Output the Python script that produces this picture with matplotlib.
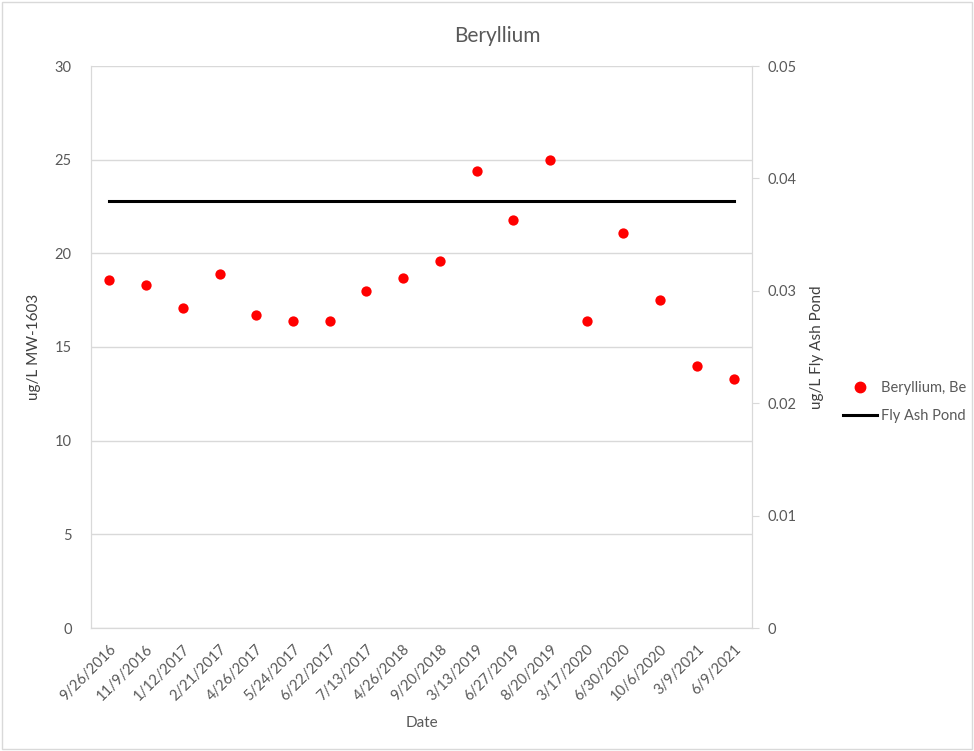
import matplotlib
matplotlib.use('Agg')
import matplotlib.pyplot as plt
from matplotlib.lines import Line2D

# data
dates = ['9/26/2016', '11/9/2016', '1/12/2017', '2/21/2017', '4/26/2017',
         '5/24/2017', '6/22/2017', '7/13/2017', '4/26/2018', '9/20/2018',
         '3/13/2019', '6/27/2019', '8/20/2019', '3/17/2020', '6/30/2020',
         '10/6/2020', '3/9/2021', '6/9/2021']
beryllium = [18.6, 18.3, 17.1, 18.9, 16.7, 16.4, 16.4, 18.0, 18.7, 19.6,
             24.4, 21.8, 25.0, 16.4, 21.1, 17.5, 14.0, 13.3]
fly_ash_pond = [0.038] * len(dates)

TXT = '#595959'
GRID = '#d9d9d9'
plt.rcParams['font.family'] = ['Lato', 'DejaVu Sans']

fig = plt.figure(figsize=(9.74, 7.51), dpi=100)
ax = fig.add_axes([91/974, 1 - 628/751, (752-91)/974, (628-66)/751])
ax2 = ax.twinx()

x = list(range(len(dates)))
ax2.plot(x, fly_ash_pond, color='black', lw=2.2, zorder=2)
ax.scatter(x, beryllium, s=55, color='#ff0000', zorder=3, linewidths=0)
ax.set_zorder(ax2.get_zorder() + 1)
ax.patch.set_visible(False)

ax.set_xlim(-0.5, len(dates) - 0.5)
ax.set_ylim(0, 30)
ax.set_yticks(range(0, 31, 5))
ax2.set_ylim(0, 0.05)
ax2.set_yticks([0, 0.01, 0.02, 0.03, 0.04, 0.05])
ax2.set_yticklabels(['0', '0.01', '0.02', '0.03', '0.04', '0.05'])

ax.yaxis.grid(True, color=GRID, lw=1)
ax.set_axisbelow(True)

ax.set_xticks(x)
ax.set_xticklabels(dates, rotation=45, ha='right', rotation_mode='anchor')

for a in (ax, ax2):
    for s in a.spines.values():
        s.set_color(GRID)
    a.spines['top'].set_visible(False)
    a.tick_params(colors=TXT, labelsize=10.5)
ax.tick_params(axis='y', length=0, pad=14)
ax.tick_params(axis='x', length=0, pad=10)
ax2.tick_params(axis='y', length=5, color=GRID, pad=6)

ax.set_ylabel('ug/L MW-1603', color='#404040', fontsize=11, labelpad=10)
ax2.set_ylabel('ug/L Fly Ash Pond', color='#404040', fontsize=11, labelpad=10)
ax.set_xlabel('Date', color=TXT, fontsize=11, labelpad=9)
fig.text(497/974, 1 - 36/751, 'Beryllium', ha='center', va='center',
         color=TXT, fontsize=15)

handles = [Line2D([], [], ls='none', marker='o', color='#ff0000', markersize=7.5),
           Line2D([], [], color='black', lw=2.2)]
fig.legend(handles, ['Beryllium, Be', 'Fly Ash Pond'], loc='center left',
           bbox_to_anchor=(830/974, 1 - 402/751), frameon=False,
           labelcolor=TXT, fontsize=10.5, handlelength=2.3, labelspacing=1.0,
           handletextpad=0.3)

# outer chart border
fig.patches.append(plt.Rectangle((0.002, 0.002), 0.996, 0.996, transform=fig.transFigure,
                                 fill=False, edgecolor=GRID, lw=1))

fig.savefig('out.png', dpi=100)
